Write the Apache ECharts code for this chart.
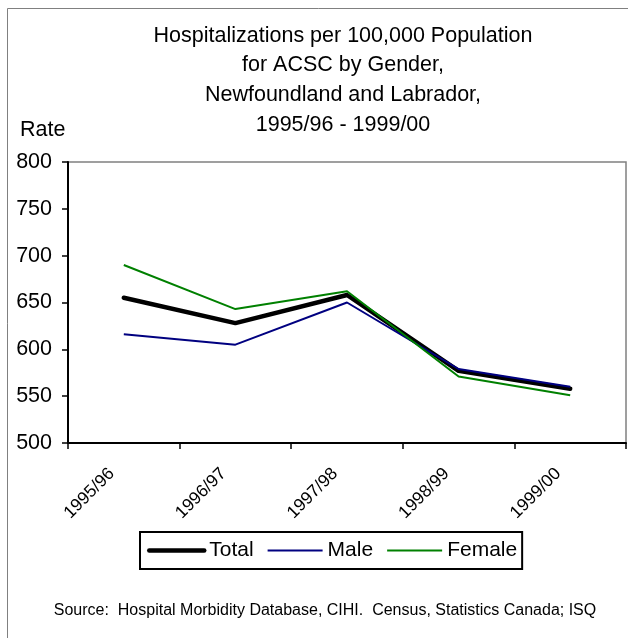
<!DOCTYPE html>
<html>
<head>
<meta charset="utf-8">
<script src="https://cdn.jsdelivr.net/npm/echarts@6/dist/echarts.min.js"></script>
<style>
html,body{margin:0;padding:0;background:#fff;}
#chart{width:628px;height:638px;}
</style>
</head>
<body>
<div id="chart"></div>
<script>
const categories = ['1995/96', '1996/97', '1997/98', '1998/99', '1999/00'];
const totalValues = [655, 628, 658, 577, 558];
const maleValues = [616, 605, 650, 579, 560];
const femaleValues = [690, 643, 662, 571, 551];
const yTicks = { min: 500, max: 800, interval: 50 };

const chart = echarts.init(document.getElementById('chart'), null, { renderer: 'canvas' });
const font = '"Liberation Sans", Arial, sans-serif';

chart.setOption({
  backgroundColor: '#fff',
  animation: false,
  textStyle: { fontFamily: font, color: '#000' },
  title: [
    {
      text: 'Hospitalizations per 100,000 Population\nfor ACSC by Gender,\nNewfoundland and Labrador,\n1995/96 - 1999/00',
      left: 343, top: 21, textAlign: 'center', padding: 0,
      textStyle: { fontFamily: font, fontSize: 21.5, fontWeight: 'normal', color: '#000', lineHeight: 29.7 }
    },
    {
      text: 'Rate', left: 20, top: 119, padding: 0,
      textStyle: { fontFamily: font, fontSize: 21.5, fontWeight: 'normal', color: '#000' }
    },
    {
      text: 'Source:  Hospital Morbidity Database, CIHI.  Census, Statistics Canada; ISQ',
      left: 325, top: 603, textAlign: 'center', padding: 0,
      textStyle: { fontFamily: font, fontSize: 16, fontWeight: 'normal', color: '#000' }
    }
  ],
  graphic: [
    { type: 'rect', shape: { x: 7.5, y: 8.5, width: 700, height: 700 }, style: { fill: 'none', stroke: '#808080', lineWidth: 1 }, z: -10, silent: true }
  ],
  grid: { left: 68, top: 162, right: 2, bottom: 195, show: true, borderColor: '#808080', borderWidth: 1.5, backgroundColor: 'transparent' },
  legend: {
    left: 140, top: 532,
    padding: [8, 5, 8, 7],
    itemGap: 13,
    itemWidth: 55, itemHeight: 14,
    borderColor: '#000', borderWidth: 2,
    itemStyle: { opacity: 0 },
    textStyle: { fontFamily: font, fontSize: 21, color: '#000', padding: [0, 0, 0, 0] },
    data: [
      { name: 'Total', lineStyle: { width: 4.5, color: '#000' } },
      { name: 'Male', lineStyle: { width: 2, color: '#000080' } },
      { name: 'Female', lineStyle: { width: 2, color: '#008000' } }
    ]
  },
  xAxis: {
    type: 'category',
    data: categories,
    boundaryGap: true,
    axisLine: { lineStyle: { color: '#000', width: 2 } },
    axisTick: { show: true, inside: false, length: 6, lineStyle: { color: '#000', width: 1.5 } },
    axisLabel: { rotate: 45, fontSize: 17.5, color: '#000', margin: 16, padding: [0, 17, 0, 0], fontFamily: font, interval: 0 },
    splitLine: { show: false }
  },
  yAxis: {
    type: 'value',
    min: yTicks.min, max: yTicks.max, interval: yTicks.interval,
    axisLine: { show: true, lineStyle: { color: '#000', width: 2 } },
    axisTick: { show: true, inside: false, length: 6, lineStyle: { color: '#000', width: 1.5 } },
    axisLabel: { fontSize: 21.5, color: '#000', margin: 16, fontFamily: font },
    splitLine: { show: false }
  },
  series: [
    { name: 'Total', type: 'line', data: totalValues, symbol: 'none', color: '#000', lineStyle: { color: '#000', width: 4.5, cap: 'round', join: 'round' } },
    { name: 'Male', type: 'line', data: maleValues, symbol: 'none', color: '#000080', lineStyle: { color: '#000080', width: 2 } },
    { name: 'Female', type: 'line', data: femaleValues, symbol: 'none', color: '#008000', lineStyle: { color: '#008000', width: 2 } }
  ]
});
</script>
</body>
</html>
